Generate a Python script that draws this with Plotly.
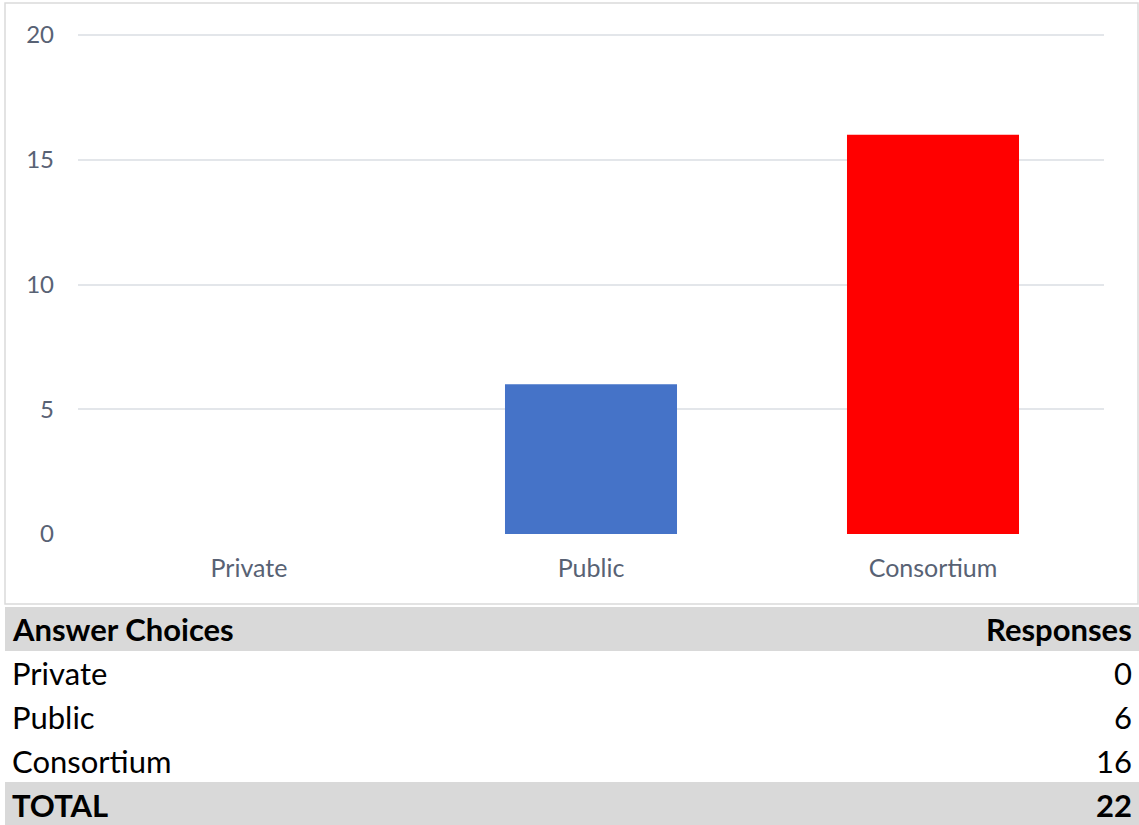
import plotly.graph_objects as go

# Survey results
categories = ["Private", "Public", "Consortium"]
responses = [0, 6, 16]
bar_colors = ["#4472c4", "#4573c8", "#ff0000"]
y_ticks = [0, 5, 10, 15, 20]

W, H = 1139, 825
FONT = "Lato"
TICK_COLOR = "#586274"

def px_x(x):
    return x / W

def px_y(y):
    return 1 - y / H

fig = go.Figure()
fig.add_trace(go.Bar(
    x=categories,
    y=responses,
    marker=dict(color=bar_colors, line=dict(width=0)),
    width=0.503,
    hoverinfo="x+y",
))

shapes = []
annotations = []

# Chart frame
shapes.append(dict(type="rect", xref="paper", yref="paper",
                   x0=px_x(5), x1=px_x(1138), y0=px_y(604), y1=px_y(3),
                   line=dict(color="#dadada", width=1.5), fillcolor="rgba(0,0,0,0)", layer="below"))

# Table: header and total bands
row_h = 44
header_top = 607
shapes.append(dict(type="rect", xref="paper", yref="paper",
                   x0=px_x(5), x1=px_x(1139), y0=px_y(header_top + row_h), y1=px_y(header_top),
                   line=dict(width=0), fillcolor="#d9d9d9", layer="below"))
total_top = header_top + row_h * (len(categories) + 1) - 1
shapes.append(dict(type="rect", xref="paper", yref="paper",
                   x0=px_x(5), x1=px_x(1139), y0=px_y(H), y1=px_y(total_top),
                   line=dict(width=0), fillcolor="#d9d9d9", layer="below"))

rows = [("Answer Choices", "Responses", True)]
rows += [(c, str(v), False) for c, v in zip(categories, responses)]
rows += [("TOTAL", str(sum(responses)), True)]

for i, (left, right, bold) in enumerate(rows):
    yc = header_top + row_h * i + row_h / 2
    lt = f"<b>{left}</b>" if bold else left
    rt = f"<b>{right}</b>" if bold else right
    annotations.append(dict(xref="paper", yref="paper", x=px_x(10), y=px_y(yc),
                            text=lt, showarrow=False, xanchor="left", yanchor="middle",
                            font=dict(family=FONT, size=31, color="#000000")))
    annotations.append(dict(xref="paper", yref="paper", x=px_x(1134), y=px_y(yc),
                            text=rt, showarrow=False, xanchor="right", yanchor="middle",
                            font=dict(family=FONT, size=31, color="#000000")))

# Small headroom above the top tick so its gridline is drawn
y_top = 20.1
plot_bottom_px, px_per_unit = 534, 499 / 20

fig.update_layout(
    width=W, height=H,
    margin=dict(l=0, r=0, t=0, b=0, autoexpand=False),
    paper_bgcolor="white",
    plot_bgcolor="white",
    showlegend=False,
    bargap=0.497,
    shapes=shapes,
    annotations=annotations,
    font=dict(family=FONT, color=TICK_COLOR),
    xaxis=dict(
        domain=[px_x(78), px_x(1104)],
        automargin=False,
        showgrid=False, zeroline=False, showline=False, ticks="",
        tickfont=dict(family=FONT, size=25, color=TICK_COLOR),
        ticklabelstandoff=17,
    ),
    yaxis=dict(
        domain=[px_y(plot_bottom_px), px_y(plot_bottom_px - y_top * px_per_unit)],
        range=[0, y_top],
        automargin=False,
        tickvals=y_ticks,
        showgrid=True, gridcolor="#e3e6ea", gridwidth=1.5,
        zeroline=False, showline=False, ticks="",
        tickfont=dict(family=FONT, size=24, color=TICK_COLOR),
        ticklabelstandoff=23,
    ),
)

fig.write_html("out.html")
